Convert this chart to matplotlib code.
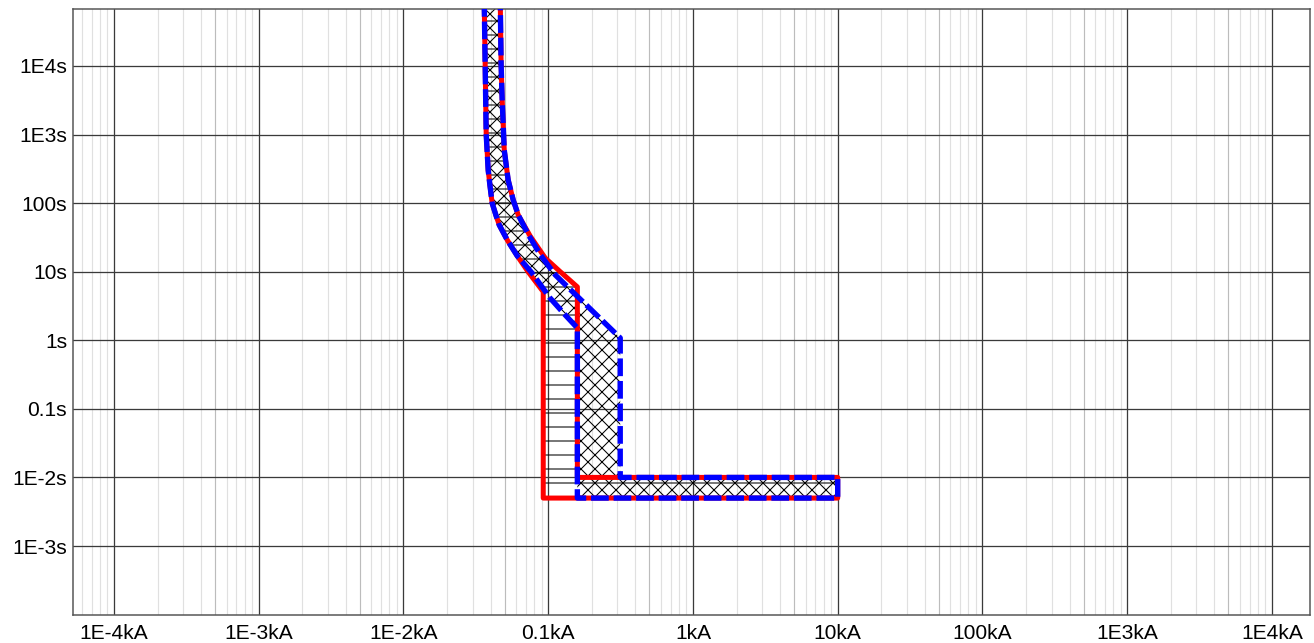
import matplotlib
matplotlib.use("Agg")
import matplotlib.pyplot as plt
from matplotlib.patches import Polygon
from matplotlib.ticker import FixedLocator, FixedFormatter, NullLocator
import numpy as np

plt.rcParams['font.family'] = ['Liberation Sans', 'DejaVu Sans']
plt.rcParams['hatch.linewidth'] = 0.9

# red device: min / max time-current curves (kA, s)
red_min_i = [0.0361, 0.0367, 0.0373, 0.0385, 0.0396, 0.041, 0.0437, 0.0459, 0.0521, 0.0611, 0.0728, 0.0924]
red_min_t = [100000, 10000, 1000, 300, 180, 100, 65, 48, 29, 17, 9.9, 5.1]
red_max_i = [0.0466, 0.0473, 0.0481, 0.0497, 0.0529, 0.0573, 0.0621, 0.0751, 0.0954, 0.121, 0.159]
red_max_t = [100000, 10000, 3170, 593, 217, 111, 67, 33, 15.8, 10, 6.0]
red_inst_i = [0.0924, 0.159]     # instantaneous pickup band
red_inst_t = [0.005, 0.01]       # clearing band
red_end_i = 10

# blue device
blue_min_i = [0.0361, 0.0367, 0.0373, 0.0385, 0.0396, 0.041, 0.0437, 0.0459, 0.0521, 0.0611, 0.0763, 0.103, 0.131, 0.159]
blue_min_t = [100000, 10000, 1000, 300, 180, 100, 65, 48, 29, 17, 9.9, 4.13, 2.34, 1.51]
blue_max_i = [0.0466, 0.0473, 0.0481, 0.0497, 0.0529, 0.0573, 0.0621, 0.0739, 0.0885, 0.112, 0.3145]
blue_max_t = [100000, 10000, 3170, 593, 217, 111, 67, 33, 17.5, 8.95, 1.08]
blue_inst_i = [0.159, 0.3145]
blue_inst_t = [0.005, 0.01]
blue_end_i = 10

x_ticks = [1e-4, 1e-3, 1e-2, 0.1, 1, 10, 100, 1e3, 1e4]
x_labels = ['1E-4kA', '1E-3kA', '1E-2kA', '0.1kA', '1kA', '10kA', '100kA', '1E3kA', '1E4kA']
y_ticks = [1e-3, 1e-2, 0.1, 1, 10, 100, 1e3, 1e4]
y_labels = ['1E-3s', '1E-2s', '0.1s', '1s', '10s', '100s', '1E3s', '1E4s']


def band_outline(min_i, min_t, max_i, max_t, inst_i, inst_t, end_i):
    # min curve down, around the instantaneous band, max curve back up
    pts = list(zip(min_i, min_t))
    pts.append((inst_i[0], inst_t[0]))
    pts.append((end_i, inst_t[0]))
    pts.append((end_i, inst_t[1]))
    pts.append((inst_i[1], inst_t[1]))
    pts += list(zip(max_i[::-1], max_t[::-1]))
    return np.array(pts)


dpi = 84
fig = plt.figure(figsize=(1314 / dpi, 643 / dpi), dpi=dpi)
ax = fig.add_axes([73 / 1314, 28 / 643, 1237 / 1314, 606 / 643])
ax.set_xscale('log')
ax.set_yscale('log')
ax.set_xlim(10 ** -4.283, 10 ** 4.263)
ax.set_ylim(10 ** -4.006, 10 ** 4.83)

# grid
for dec in range(-5, 5):
    for k in range(2, 10):
        c = '#bcbcbc' if k == 5 else '#e0e0e0'
        ax.axvline(k * 10.0 ** dec, color=c, lw=1.0, zorder=0)
for v in x_ticks:
    ax.axvline(v, color='#3a3a3a', lw=1.1, zorder=0.5)
for v in y_ticks:
    ax.axhline(v, color='#3a3a3a', lw=1.1, zorder=0.5)

red_pts = band_outline(red_min_i, red_min_t, red_max_i, red_max_t, red_inst_i, red_inst_t, red_end_i)
blue_pts = band_outline(blue_min_i, blue_min_t, blue_max_i, blue_max_t, blue_inst_i, blue_inst_t, blue_end_i)

ax.add_patch(Polygon(red_pts, closed=True, facecolor='none', edgecolor='black', lw=0, hatch='-', zorder=2))
ax.add_patch(Polygon(blue_pts, closed=True, facecolor='none', edgecolor='black', lw=0, hatch='xx', zorder=2))

ax.plot(red_pts[:, 0], red_pts[:, 1], color='#ff0000', lw=4.3, solid_joinstyle='round', zorder=3)
ax.plot(blue_pts[:, 0], blue_pts[:, 1], color='#0000ff', lw=4.6, dashes=(3.3, 0.9),
        dash_capstyle='butt', dash_joinstyle='round', zorder=4)

ax.xaxis.set_major_locator(FixedLocator(x_ticks))
ax.xaxis.set_major_formatter(FixedFormatter(x_labels))
ax.yaxis.set_major_locator(FixedLocator(y_ticks))
ax.yaxis.set_major_formatter(FixedFormatter(y_labels))
ax.xaxis.set_minor_locator(NullLocator())
ax.yaxis.set_minor_locator(NullLocator())
ax.tick_params(length=0, labelsize=18, labelcolor='black')
ax.tick_params(axis='x', pad=8)
ax.tick_params(axis='y', pad=5)

for s in ax.spines.values():
    s.set_color('#555555')
    s.set_linewidth(1.3)

fig.savefig('out.png', dpi=dpi)
